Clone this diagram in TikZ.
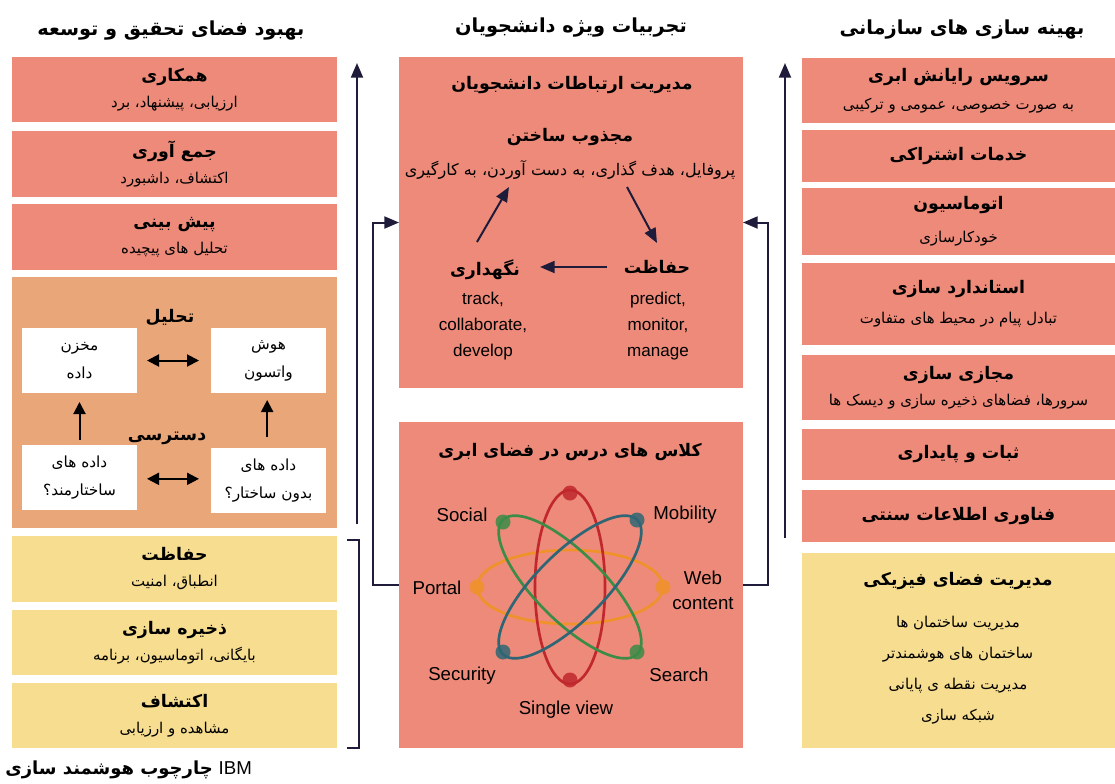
\documentclass[tikz,border=0pt]{standalone}
\usepackage{fontspec}
\setmainfont{Liberation Sans}
\newfontfamily\fa[Script=Arabic]{DejaVu Sans}
\TeXXeTstate=1
\usetikzlibrary{arrows.meta}
\definecolor{sal}{RGB}{237,138,121}
\definecolor{org}{RGB}{233,166,120}
\definecolor{yel}{RGB}{246,221,143}
\definecolor{navy}{RGB}{30,28,58}
\definecolor{atr}{RGB}{192,40,45}
\definecolor{atg}{RGB}{60,140,72}
\definecolor{atb}{RGB}{47,102,117}
\definecolor{ato}{RGB}{240,146,42}
\newcommand\tb[1]{{\bfseries\fontsize{13}{19.5}\selectfont\beginR #1\endR}}
\newcommand\ts[1]{\beginR #1\endR}
\begin{document}
\begin{tikzpicture}[x=0.75pt,y=-0.75pt,
  bx/.style={inner sep=0pt, outer sep=0pt, align=center, font=\fa\fontsize{11.2}{19.5}\selectfont},
  tx/.style={inner sep=0pt, align=center, font=\fa\fontsize{11.2}{19.5}\selectfont},
  hdr/.style={inner sep=0pt, font=\fa\bfseries\fontsize{14.5}{18}\selectfont},
  lat/.style={inner sep=0pt, align=center, font=\fontsize{14}{18.5}\selectfont},
  latb/.style={inner sep=0pt, align=center, font=\fontsize{12.8}{19.5}\selectfont},
  arr/.style={draw=navy, line width=1.5pt, -{Triangle[length=11pt,width=9pt]}},
  dbl/.style={draw=black, line width=1.5pt, {Triangle[length=9pt,width=9pt]}-{Triangle[length=9pt,width=9pt]}},
  ua/.style={draw=black, line width=1.5pt, -{Triangle[length=9pt,width=9pt]}},
  lw/.style={minimum width=243.75pt},
  mw/.style={minimum width=258pt},
  rw/.style={minimum width=234.75pt},
  wb/.style={bx, fill=white, minimum width=86.25pt, minimum height=48.75pt, font=\fa\fontsize{11.5}{21}\selectfont},
]
\useasboundingbox (0,0) rectangle (1115,783);
\fill[white] (0,0) rectangle (1115,783);

% headers
\node[hdr] (HL) at (171,31) {\beginR بهبود فضای تحقیق و توسعه\endR};
\node[hdr] (HM) at (571,28) {\beginR تجربیات ویژه دانشجویان\endR};
\node[hdr] (HR) at (962,30) {\beginR بهینه سازی های سازمانی\endR};

% left column
\node[bx, lw, fill=sal, minimum height=48.75pt] (L1) at (174.5,89.5) {\tb{همکاری}\\\ts{ارزیابی، پیشنهاد، برد}};
\node[bx, lw, fill=sal, minimum height=49.5pt] (L2) at (174.5,164) {\tb{جمع آوری}\\\ts{اکتشاف، داشبورد}};
\node[bx, lw, fill=sal, minimum height=49.5pt] (L3) at (174.5,237) {\tb{پیش بینی}\\\ts{تحلیل های پیچیده}};
\node[bx, lw, fill=org, minimum height=188.25pt] (LO) at (174.5,402.5) {};
\node[bx, lw, fill=yel, minimum height=49.5pt] (LY1) at (174.5,569) {\tb{حفاظت}\\\ts{انطباق، امنیت}};
\node[bx, lw, fill=yel, minimum height=48.75pt] (LY2) at (174.5,642.5) {\tb{ذخیره سازی}\\\ts{بایگانی، اتوماسیون، برنامه}};
\node[bx, lw, fill=yel, minimum height=48.75pt] (LY3) at (174.5,715.5) {\tb{اکتشاف}\\\ts{مشاهده و ارزیابی}};

% inside orange box
\node[tx] (AN) at (170,317) {\tb{تحلیل}};
\node[tx] (AC2) at (167,438) {\tb{دسترسی}};
\node[wb] (WA) at (79.5,360.5) {\ts{مخزن}\\\ts{داده}};
\node[wb] (WB) at (268.5,360.5) {\ts{هوش}\\\ts{واتسون}};
\node[wb] (WC) at (79.5,477.5) {\ts{داده های}\\\ts{ساختارمند؟}};
\node[wb] (WD) at (268.5,480.5) {\ts{داده های}\\\ts{بدون ساختار؟}};
\draw[dbl, shorten <=7.5pt, shorten >=9pt] (WA) -- (WB);
\draw[dbl, shorten <=7.5pt, shorten >=9pt] ([yshift=-1pt]WC.east) -- ([yshift=-1pt]WC.east -| WD.west);
\draw[ua, shorten <=3.75pt, shorten >=6.75pt] (WC.north) -- (WA.south);
\draw[ua, shorten <=8.25pt, shorten >=5.25pt] ([xshift=-1pt]WD.north) -- ([xshift=-1pt]WB.south);

% left arrow and bracket
\coordinate (la0) at (357,524);
\coordinate (la1) at (357,63);
\draw[arr] (la0) -- (la1);
\draw[navy, line width=1.5pt] (347,540) -- (359,540) -- (359,748) -- (347,748);

% middle top box
\node[bx, mw, fill=sal, minimum height=248.25pt] (MT) at (571,222.5) {};
\node[tx] (MTt) at (572,85) {\tb{مدیریت ارتباطات دانشجویان}};
\node[tx] (ENG) at (570,137) {\tb{مجذوب ساختن}};
\node[tx, font=\fa\fontsize{12}{19.5}\selectfont] (ENGs) at (570,170) {\ts{پروفایل، هدف گذاری، به دست آوردن، به کارگیری}};
\node[tx] (PROT) at (657,267) {\tb{حفاظت}};
\node[latb] (PROTs) at (658,326) {predict,\\monitor,\\manage};
\node[tx] (RET) at (485,270) {\tb{نگهداری}};
\node[latb] (RETs) at (483,326) {track,\\collaborate,\\develop};
\coordinate (e1) at (627,187);
\coordinate (e2) at (657,243);
\coordinate (p1) at (607,267);
\coordinate (p2) at (540,267);
\coordinate (r1) at (477,242);
\coordinate (r2) at (509,187);
\draw[arr] (e1) -- (e2);
\draw[arr] (p1) -- (p2);
\draw[arr] (r1) -- (r2);

% middle bottom box
\node[bx, mw, fill=sal, minimum height=244.5pt] (MB) at (571,585) {};
\node[tx] (MBt) at (570,452) {\tb{کلاس های درس در فضای ابری}};
\coordinate (AC) at (570,587);
\begin{scope}[shift={(AC)}, line width=2pt]
  \draw[ato] (0,0) ellipse [x radius=93, y radius=37];
  \draw[atr] (0,0) ellipse [x radius=35, y radius=97];
  \draw[atg, rotate=-45] (0,0) ellipse [x radius=95, y radius=34];
  \draw[atb, rotate=45] (0,0) ellipse [x radius=95, y radius=34];
  \fill[atr, opacity=.85] (0,-94) circle [radius=7.5] (0,93) circle [radius=7.5];
  \fill[ato, opacity=.85] (-93,0) circle [radius=7.5] (93,0) circle [radius=7.5];
  \fill[atg, opacity=.85] (-67,-65) circle [radius=7.5] (67,65) circle [radius=7.5];
  \fill[atb, opacity=.85] (67,-67) circle [radius=7.5] (-67,65) circle [radius=7.5];
\end{scope}
\node[lat] (tSoc) at (462,515) {Social};
\node[lat] (tMob) at (685,515) {Mobility};
\node[lat] (tPor) at (437,588) {Portal};
\node[lat] (tWeb) at (703,590) {Web\\content};
\node[lat] (tSec) at (462,676) {Security};
\node[lat] (tSea) at (679,675) {Search};
\node[lat] (tSin) at (566,710) {Single view};

\draw[arr] (MB.west) -- ++(-26,0) |- (MT.west);
\draw[arr] (MB.east) -- ++(25,0) |- (MT.east);

% right column
\node[bx, rw, fill=sal, minimum height=48.75pt] (R1) at (958.5,90.5) {\tb{سرویس رایانش ابری}\\[1.5pt]\ts{به صورت خصوصی، عمومی و ترکیبی}};
\node[bx, rw, fill=sal, minimum height=39pt] (R2) at (958.5,156) {\tb{خدمات اشتراکی}};
\node[bx, rw, fill=sal, minimum height=50.25pt] (R3) at (958.5,221.5) {\tb{اتوماسیون}\\[5pt]\ts{خودکارسازی}};
\node[bx, rw, fill=sal, minimum height=61.5pt] (R4) at (958.5,304) {\tb{استاندارد سازی}\\[3pt]\ts{تبادل پیام در محیط های متفاوت}};
\node[bx, rw, fill=sal, minimum height=48.75pt] (R5) at (958.5,387.5) {\tb{مجازی سازی}\\\ts{سرورها، فضاهای ذخیره سازی و دیسک ها}};
\node[bx, rw, fill=sal, minimum height=38.25pt] (R6) at (958.5,454.5) {\tb{ثبات و پایداری}};
\node[bx, rw, fill=sal, minimum height=39pt] (R7) at (958.5,516) {\tb{فناوری اطلاعات سنتی}};
\node[bx, rw, fill=yel, minimum height=146.25pt] (R8) at (958.5,650.5) {};
\node[tx] (R8t) at (958,581) {\tb{مدیریت فضای فیزیکی}};
\node[tx, font=\fa\fontsize{11.2}{23.25}\selectfont] (R8s) at (958,670) {\ts{مدیریت ساختمان ها}\\\ts{ساختمان های هوشمندتر}\\\ts{مدیریت نقطه ی پایانی}\\\ts{شبکه سازی}};

\coordinate (ra0) at (785,538);
\coordinate (ra1) at (785,63);
\draw[arr] (ra0) -- (ra1);

% footer
\node[inner sep=0pt, anchor=west, font=\fa\bfseries\fontsize{13.5}{17}\selectfont] (FT) at (5,770) {\beginR چارچوب هوشمند سازی\endR};
\node[inner sep=0pt, anchor=base west, font=\fontsize{14}{17}\selectfont] (FT2) at ([xshift=4pt]FT.base east) {IBM};
\end{tikzpicture}
\end{document}
